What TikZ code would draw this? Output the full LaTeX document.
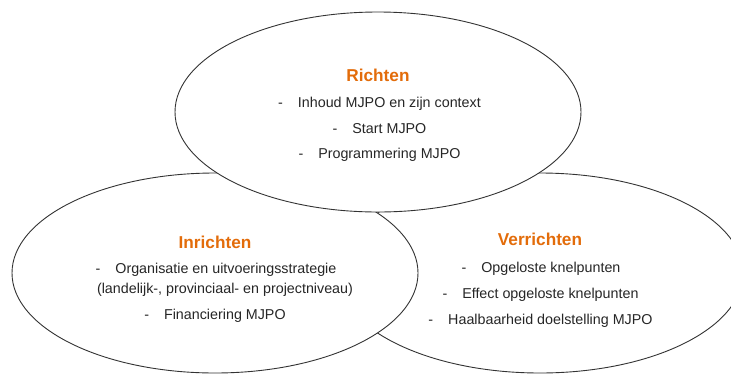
\documentclass[tikz,border=0pt]{standalone}
\usepackage{fontspec}
\setmainfont{Liberation Sans}
\usetikzlibrary{shapes.geometric}
\definecolor{titleorange}{HTML}{E36C0A}
\definecolor{bodytext}{HTML}{262626}
\definecolor{edge}{HTML}{333333}
\tikzset{
  oval/.style={ellipse, draw=edge, line width=0.9pt, fill=white, minimum width=406pt, minimum height=200pt, inner sep=0pt},
  ttl/.style={anchor=base, inner sep=0pt, text=titleorange, font=\fontsize{17.2}{20}\selectfont\bfseries},
  itm/.style={anchor=base, inner sep=0pt, text=bodytext, font=\fontsize{14.3}{17}\selectfont}
}
\newcommand{\dsh}{-\hspace{15pt}}
\begin{document}
\begin{tikzpicture}[x=1pt,y=-1pt]
\useasboundingbox (0,0) rectangle (731,373);
\clip (0,0) rectangle (731,373);
\node[oval] (verr) at (540,273) {};
\node[oval] (inr) at (215,273) {};
\node[oval] (richt) at (378,112) {};
% Richten
\node[ttl] (t1) at (378,81) {Richten};
\node[itm] (r1) at (379.5,107) {\dsh Inhoud MJPO en zijn context};
\node[itm] (r2) at (379.5,133) {\dsh Start MJPO};
\node[itm] (r3) at (379.5,158) {\dsh Programmering MJPO};
% Inrichten
\node[ttl] (t2) at (215,248) {Inrichten};
\node[itm] (i1) at (216,273) {\dsh Organisatie en uitvoeringsstrategie};
\node[itm] (i2) at (225,293) {(landelijk-, provinciaal- en projectniveau)};
\node[itm] (i3) at (215,319) {\dsh Financiering MJPO};
% Verrichten
\node[ttl] (t3) at (540,245) {Verrichten};
\node[itm] (v1) at (541,272) {\dsh Opgeloste knelpunten};
\node[itm] (v2) at (540.5,298) {\dsh Effect opgeloste knelpunten};
\node[itm] (v3) at (540.5,324) {\dsh Haalbaarheid doelstelling MJPO};
\end{tikzpicture}
\end{document}
